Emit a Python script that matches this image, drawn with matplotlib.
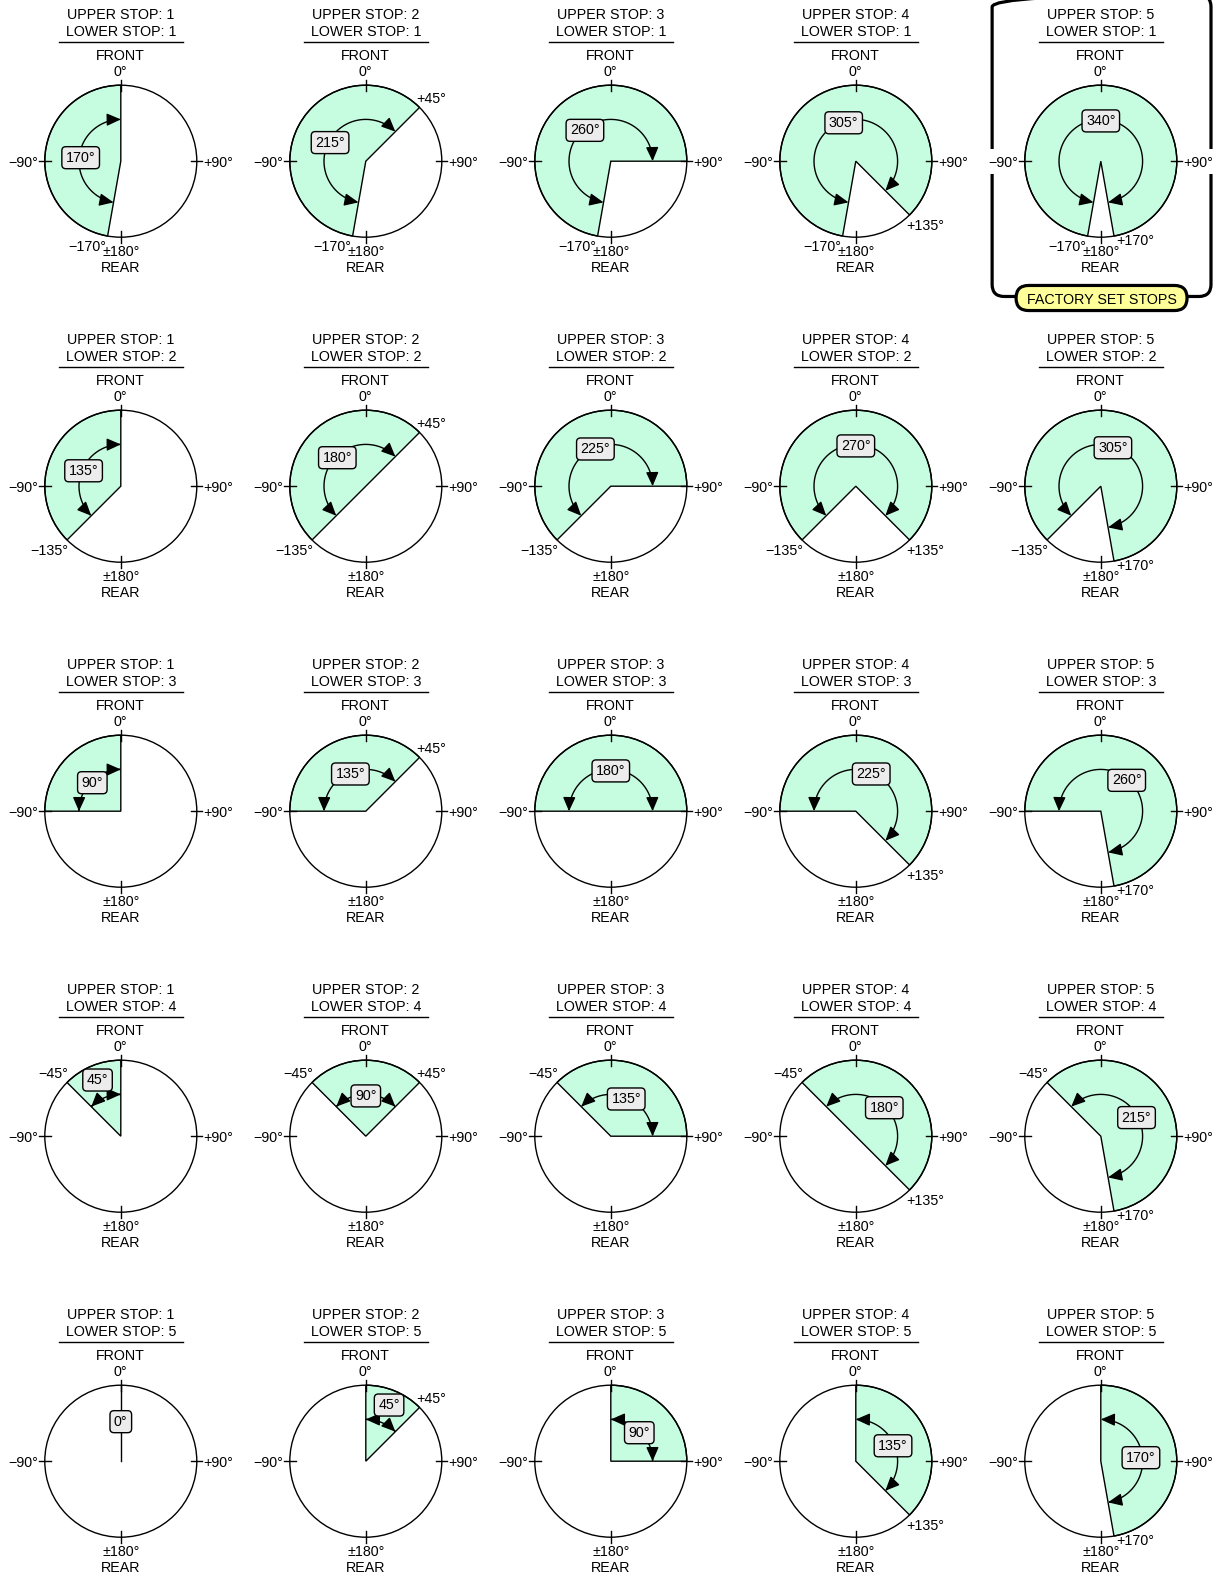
import numpy as np
import matplotlib
matplotlib.use("Agg")
import matplotlib.pyplot as plt
from matplotlib.patches import Wedge, Circle, FancyArrowPatch, FancyBboxPatch, Rectangle
from matplotlib.path import Path

plt.rcParams['font.family'] = ['Liberation Sans', 'DejaVu Sans']
plt.rcParams['font.size'] = 10.3

# stop positions (degrees, clockwise from front)
upper_stops = [1, 2, 3, 4, 5]
upper_angles = [0, 45, 90, 135, 170]
lower_stops = [1, 2, 3, 4, 5]
lower_angles = [-170, -135, -90, -45, 0]
factory_stops = (5, 1)  # (upper, lower)

MINT = '#c6fde0'
BOX = '#ececec'
YELLOW = '#ffff99'

W, H = 1222, 1577
R_PX = 76.0
COL0, COL_STEP = 120.8, 245.0
ROW0, ROW_STEP = 161.2, 325.0
AX_W, AX_TOP, AX_BOT = 245.0, 158.0, 115.0
PX = 1 / R_PX

fig = plt.figure(figsize=(W / 100, H / 100), dpi=100)


def fmt(a):
    if a == 0:
        return '0°'
    return ('+' if a > 0 else '\u2212') + f'{abs(a)}°'


def pt(a, r):
    t = np.radians(a)
    return r * np.sin(t), r * np.cos(t)


def stop_label(ax, a):
    if a % 90 == 0:
        return
    x, y = pt(a, 1.0)
    s = np.sin(np.radians(a))
    c = np.cos(np.radians(a))
    ha = 'left' if s > 0 else 'right'
    dx = -3 * PX if s > 0 else 1 * PX
    if c > 0:
        va, dy = 'bottom', 1 * PX
    else:
        va, dy = 'top', -4 * PX
    if abs(a) > 150:
        # squeezed next to the rear label
        if a > 0:
            va, dx, dy = 'center', 2 * PX, -5 * PX
        else:
            dx = -1 * PX
    ax.text(x + dx, y + dy, fmt(a), ha=ha, va=va, zorder=6)


def draw_cell(ax, u_stop, u, l_stop, l):
    span = u - l
    off = -0.02
    # titles
    ax.text(0, 1.925, f'UPPER STOP: {u_stop}', ha='center', va='center')
    ax.text(0, 1.705, f'LOWER STOP: {l_stop}', ha='center', va='center')
    ax.plot([-0.81, 0.815], [1.572, 1.572], color='black', lw=1.0)
    ax.text(0, 1.39, 'FRONT', ha='center', va='center')
    ax.text(0, 1.18, '0°', ha='center', va='center')
    ax.text(0, -1.17 + off, '±180°', ha='center', va='center')
    ax.text(0, -1.39 + off, 'REAR', ha='center', va='center')
    ax.text(-1.085, -0.01 + off, '\u221290°', ha='right', va='center', zorder=8)
    ax.text(1.09, -0.01 + off, '+90°', ha='left', va='center', zorder=8)

    # travel range
    if span > 0:
        ax.add_patch(Wedge((0, 0), 1.0, 90 - u, 90 - l, facecolor=MINT,
                           edgecolor='black', lw=1.0, zorder=2))
    else:
        x, y = pt(u, 1.0)
        ax.plot([0, x], [0, y], color='black', lw=1.0, zorder=2)
    ax.add_patch(Circle((0, 0), 1.0, fill=False, edgecolor='black', lw=1.0, zorder=3))
    for a in (0, 90, 180, 270):
        x0, y0 = pt(a, 0.92)
        x1, y1 = pt(a, 1.07)
        ax.plot([x0, x1], [y0, y1], color='black', lw=1.0, zorder=3)

    stop_label(ax, l)
    stop_label(ax, u)

    # span arrow and label
    mid = (u + l) / 2
    if span > 0:
        angs = np.linspace(l, u, 80)
        verts = np.column_stack([0.55 * np.sin(np.radians(angs)),
                                 0.55 * np.cos(np.radians(angs))])
        codes = [Path.MOVETO] + [Path.LINETO] * (len(verts) - 1)
        ax.add_patch(FancyArrowPatch(path=Path(verts, codes),
                                     arrowstyle='<|-|>,head_length=0.85,head_width=0.38',
                                     mutation_scale=10, color='black', lw=1.0, zorder=4))
    r_lab = 0.8 if 0 < span <= 45 else 0.53
    if span == 0:
        r_lab = 0.52
    lx, ly = pt(mid, r_lab)
    ax.text(lx, ly, f'{span}°', ha='center', va='center', zorder=7,
            bbox=dict(boxstyle='round,pad=0.28', fc=BOX, ec='black', lw=1.0))

    if (u_stop, l_stop) == factory_stops:
        ax.add_patch(FancyBboxPatch((-1.43, -1.78), 2.88, 3.97,
                                    boxstyle='round,pad=0,rounding_size=0.16',
                                    fill=False, ec='black', lw=2.3, clip_on=False, zorder=5))
        for xs in (-1.43, 1.45):
            ax.add_patch(Rectangle((xs - 0.06, -0.17), 0.12, 0.33, fc='white', ec='none',
                                   clip_on=False, zorder=6))
        ax.add_patch(FancyBboxPatch((0.01 - 1.125, -1.80 - 0.165), 2.25, 0.33,
                                    boxstyle='round,pad=0,rounding_size=0.165',
                                    fc=YELLOW, ec='black', lw=2.3, clip_on=False, zorder=7))
        ax.text(0.01, -1.80 + off, 'FACTORY SET STOPS', ha='center', va='center', zorder=8)


for ri, (l_stop, l) in enumerate(zip(lower_stops, lower_angles)):
    for ci, (u_stop, u) in enumerate(zip(upper_stops, upper_angles)):
        cx = COL0 + ci * COL_STEP
        cy = ROW0 + ri * ROW_STEP
        ax = fig.add_axes([(cx - AX_W / 2) / W, 1 - (cy + AX_BOT) / H,
                           AX_W / W, (AX_TOP + AX_BOT) / H])
        ax.set_xlim(-AX_W / 2 / R_PX, AX_W / 2 / R_PX)
        ax.set_ylim(-AX_BOT / R_PX, AX_TOP / R_PX)
        ax.axis('off')
        draw_cell(ax, u_stop, u, l_stop, l)

fig.savefig('out.png', dpi=100, facecolor='white')
